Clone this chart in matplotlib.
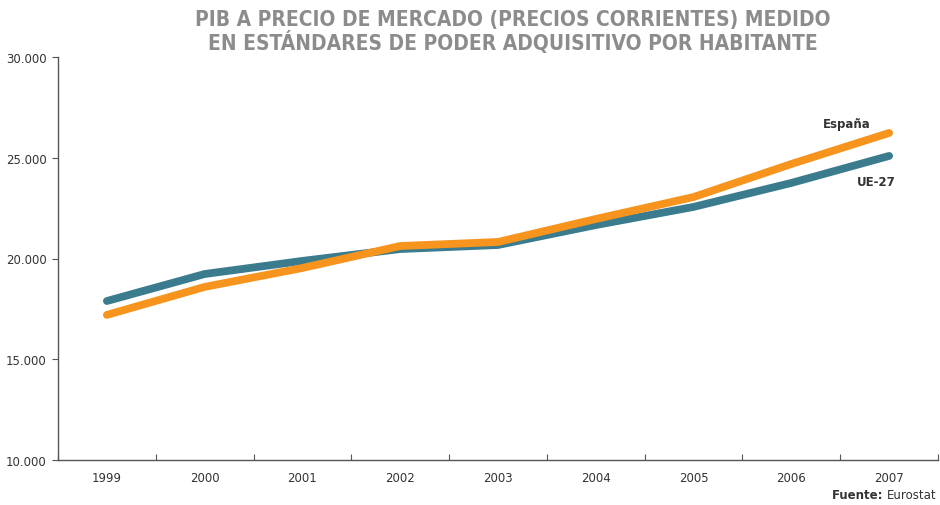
import matplotlib
matplotlib.use("Agg")
import matplotlib.pyplot as plt
import numpy as np

years = ["1999", "2000", "2001", "2002", "2003", "2004", "2005", "2006", "2007"]
ue27 = [17890, 19230, 19880, 20470, 20670, 21660, 22560, 23750, 25090]
espana = [17200, 18590, 19530, 20620, 20820, 21960, 23050, 24690, 26230]
yticks = [10000, 15000, 20000, 25000, 30000]
ytick_labels = ["10.000", "15.000", "20.000", "25.000", "30.000"]

W, H = 940, 506
fig = plt.figure(figsize=(W / 100, H / 100), dpi=100)
ax = fig.add_axes([58 / W, (H - 461) / H, (938 - 58) / W, (461 - 58) / H])

x = np.arange(len(years))
ax.plot(x, ue27, color="#3b7b8e", lw=5.6, solid_capstyle="round", solid_joinstyle="round", zorder=3)
ax.plot(x, espana, color="#f7941d", lw=5.6, solid_capstyle="round", solid_joinstyle="round", zorder=4)

ax.set_xlim(-0.5, len(years) - 0.5)
ax.set_ylim(10000, 30000)
ax.set_yticks(yticks)
ax.set_yticklabels(ytick_labels)
ax.set_xticks(np.arange(len(years) + 1) - 0.5)
ax.set_xticklabels([])
ax.set_xticks(x, minor=True)
ax.set_xticklabels(years, minor=True)
ax.tick_params(axis="x", which="minor", length=0, pad=8, labelsize=8.5, colors="#333333")
ax.tick_params(axis="x", which="major", length=4, color="#555555", direction="in")
ax.tick_params(axis="y", length=4, color="#555555", labelsize=8.5, labelcolor="#333333", pad=4)

for s in ["top", "right"]:
    ax.spines[s].set_visible(False)
for s in ["left", "bottom"]:
    ax.spines[s].set_color("#555555")
    ax.spines[s].set_linewidth(1.0)

ax.text(7.57, 26675, "España", fontsize=8.5, fontweight="bold", color="#333333",
        ha="center", va="center")
ax.text(7.87, 23800, "UE-27", fontsize=8.5, fontweight="bold", color="#333333",
        ha="center", va="center")

fig.text(513 / W, 1 - 32 / H, "PIB A PRECIO DE MERCADO (PRECIOS CORRIENTES) MEDIDO\nEN ESTÁNDARES DE PODER ADQUISITIVO POR HABITANTE",
         ha="center", va="center", fontsize=15, fontweight="bold", color="#8c8c8c",
         fontfamily="DejaVu Sans", fontstretch="condensed", linespacing=1.1)

fig.text(936 / W, 1 - 496 / H, "Fuente: ", ha="right", va="center", fontsize=8.5, color="#333333")
t = fig.text(936 / W, 1 - 496 / H, "Eurostat", ha="right", va="center", fontsize=8.5, color="#333333")
fig.canvas.draw()
bb = t.get_window_extent()
fig.texts[-2].set_position((bb.x0 / W, 1 - 496 / H))
fig.texts[-2].set_fontweight("bold")

fig.savefig("out.png", dpi=100)
